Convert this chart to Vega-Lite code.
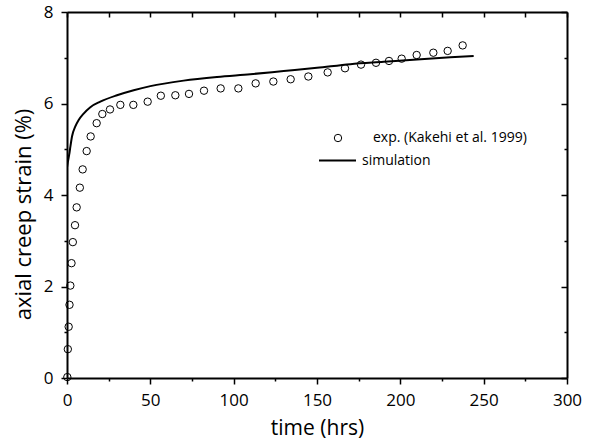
{
  "$schema": "https://vega.github.io/schema/vega-lite/v6.json",
  "width": 500,
  "height": 366,
  "autosize": {"type": "none"},
  "padding": {"left": 67, "top": 12, "right": 26, "bottom": 62},
  "background": "white",
  "config": {
    "view": {"stroke": null},
    "font": "Open Sans",
    "axis": {
      "domainColor": "black",
      "domainWidth": 2,
      "tickColor": "black",
      "tickWidth": 1.5,
      "labelColor": "black",
      "titleColor": "black",
      "labelFont": "Open Sans",
      "titleFont": "Open Sans",
      "labelFontSize": 17,
      "titleFontSize": 22,
      "titleFontWeight": "normal",
      "grid": false,
      "zindex": 1
    },
    "legend": {
      "labelFont": "Open Sans",
      "labelFontSize": 14,
      "labelColor": "black",
      "padding": 0
    }
  },
  "datasets": {
    "exp": [
      {"t": 0.2, "v": 0.02}, {"t": 0.5, "v": 0.63}, {"t": 1.0, "v": 1.12}, {"t": 1.5, "v": 1.6},
      {"t": 2.0, "v": 2.02}, {"t": 2.7, "v": 2.51}, {"t": 3.5, "v": 2.97}, {"t": 4.8, "v": 3.34},
      {"t": 5.8, "v": 3.73}, {"t": 7.7, "v": 4.16}, {"t": 9.4, "v": 4.56}, {"t": 11.8, "v": 4.96},
      {"t": 14.2, "v": 5.28}, {"t": 17.8, "v": 5.57}, {"t": 21.2, "v": 5.77}, {"t": 25.8, "v": 5.87},
      {"t": 32.0, "v": 5.97}, {"t": 39.8, "v": 5.97}, {"t": 48.4, "v": 6.04}, {"t": 56.3, "v": 6.17},
      {"t": 65.0, "v": 6.18}, {"t": 73.2, "v": 6.21}, {"t": 82.2, "v": 6.28}, {"t": 92.2, "v": 6.33},
      {"t": 102.8, "v": 6.33}, {"t": 113.2, "v": 6.44}, {"t": 123.8, "v": 6.48}, {"t": 134.2, "v": 6.53},
      {"t": 144.8, "v": 6.59}, {"t": 156.4, "v": 6.68}, {"t": 166.8, "v": 6.77}, {"t": 176.4, "v": 6.85},
      {"t": 185.4, "v": 6.89}, {"t": 193.2, "v": 6.93}, {"t": 200.8, "v": 6.98}, {"t": 209.8, "v": 7.06},
      {"t": 219.8, "v": 7.11}, {"t": 228.4, "v": 7.15}, {"t": 237.4, "v": 7.27}
    ],
    "sim": [
      {"t": 0, "v": 4.6}, {"t": 0.5, "v": 4.72}, {"t": 1, "v": 4.82}, {"t": 1.5, "v": 4.92},
      {"t": 2, "v": 5.05}, {"t": 3, "v": 5.28}, {"t": 5, "v": 5.5}, {"t": 7, "v": 5.64},
      {"t": 10, "v": 5.78}, {"t": 14, "v": 5.92}, {"t": 20, "v": 6.04}, {"t": 30, "v": 6.18},
      {"t": 40, "v": 6.29}, {"t": 50, "v": 6.38}, {"t": 70, "v": 6.5}, {"t": 90, "v": 6.58},
      {"t": 110, "v": 6.64}, {"t": 130, "v": 6.71}, {"t": 150, "v": 6.78}, {"t": 170, "v": 6.86},
      {"t": 190, "v": 6.91}, {"t": 210, "v": 6.96}, {"t": 230, "v": 7.01}, {"t": 244, "v": 7.04}
    ]
  },
  "resolve": {"axis": {"x": "independent", "y": "independent"}},
  "layer": [
    {
      "data": {"name": "sim"},
      "mark": {"type": "line", "strokeWidth": 2, "interpolate": "monotone", "clip": true},
      "encoding": {
        "x": {
          "field": "t", "type": "quantitative",
          "scale": {"domain": [0, 300], "nice": false},
          "axis": {
            "orient": "top", "values": [0, 25, 50, 75, 100, 125, 150, 175, 200, 225, 250, 275, 300],
            "tickSize": -5, "labels": false, "title": null
          }
        },
        "y": {
          "field": "v", "type": "quantitative",
          "scale": {"domain": [0, 8], "nice": false},
          "axis": {
            "orient": "right", "values": [0, 1, 2, 3, 4, 5, 6, 7, 8],
            "tickSize": {"condition": {"test": "datum.value % 2 === 0", "value": -6}, "value": -3},
            "labels": false, "title": null
          }
        },
        "color": {
          "datum": "simulation",
          "scale": {"range": ["black"]},
          "legend": {
            "title": null, "orient": "none", "legendX": 251, "legendY": 129,
            "symbolType": "stroke", "symbolSize": 1369, "symbolStrokeWidth": 2,
            "symbolStrokeColor": "black", "labelOffset": 5
          }
        }
      }
    },
    {
      "data": {"name": "exp"},
      "mark": {"type": "point", "shape": "circle", "filled": false, "color": "black", "strokeWidth": 1, "size": 55, "opacity": 1},
      "encoding": {
        "x": {
          "field": "t", "type": "quantitative",
          "scale": {"domain": [0, 300], "nice": false},
          "axis": {
            "orient": "bottom", "values": [0, 25, 50, 75, 100, 125, 150, 175, 200, 225, 250, 275, 300],
            "tickSize": {"condition": {"test": "datum.value % 50 === 0", "value": 6}, "value": 3},
            "labelExpr": "datum.value % 50 === 0 ? datum.label : ''",
            "labelPadding": 8, "labelFlush": false, "labelOverlap": false,
            "title": "time (hrs)", "titlePadding": 9, "titleFontSize": 21
          }
        },
        "y": {
          "field": "v", "type": "quantitative",
          "scale": {"domain": [0, 8], "nice": false},
          "axis": {
            "orient": "left", "values": [0, 1, 2, 3, 4, 5, 6, 7, 8],
            "tickSize": {"condition": {"test": "datum.value % 2 === 0", "value": 6}, "value": 3},
            "labelExpr": "datum.value % 2 === 0 ? datum.label : ''",
            "labelPadding": 8, "labelFlush": false, "labelOverlap": false,
            "title": "axial creep strain (%)", "titlePadding": 8, "titleY": 202
          }
        },
        "shape": {
          "datum": "exp. (Kakehi et al. 1999)",
          "scale": {"range": ["circle"]},
          "legend": {
            "title": null, "orient": "none", "legendX": 264, "legendY": 119,
            "symbolSize": 55, "symbolStrokeColor": "black", "symbolFillColor": "transparent",
            "symbolStrokeWidth": 1, "labelOffset": 28
          }
        }
      }
    }
  ]
}
